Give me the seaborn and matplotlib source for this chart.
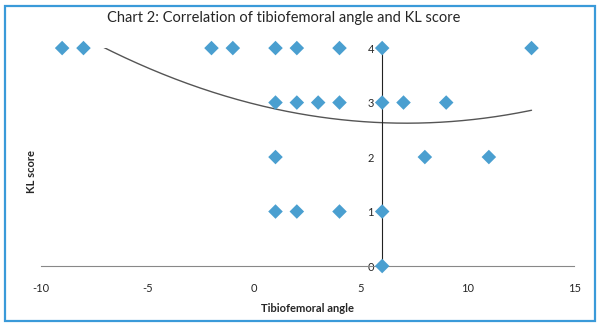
import numpy as np
import pandas as pd
import matplotlib
matplotlib.use("Agg")
import matplotlib.pyplot as plt
import seaborn as sns
from matplotlib.patches import Rectangle

# data
angle = [-9, -8, -2, -1, 1, 2, 4, 6, 13,
         1, 2, 3, 4, 6, 7, 9,
         1, 8, 11,
         1, 2, 4, 6,
         6]
kl_score = [4, 4, 4, 4, 4, 4, 4, 4, 4,
            3, 3, 3, 3, 3, 3, 3,
            2, 2, 2,
            1, 1, 1, 1,
            0]
trend_x = [-7.1, -0.7, 6.5, 13]
trend_y = [4.02, 3.05, 2.62, 2.86]
x_ticks = [-10, -5, 0, 5, 10, 15]
y_ticks = [0, 1, 2, 3, 4]

df = pd.DataFrame({"angle": angle, "kl": kl_score})

sns.set_style("white")
plt.rcParams["font.family"] = ["Lato", "DejaVu Sans"]
plt.rcParams["axes.unicode_minus"] = False

fig = plt.figure(figsize=(6, 3.27), dpi=100)
ax = fig.add_axes([0.068, 0.1865, 0.889, 0.6665])

sns.scatterplot(data=df, x="angle", y="kl", marker="D", s=55, color="#4a9fd0",
                edgecolor="none", ax=ax, clip_on=False, zorder=3)

# 2nd order polynomial trendline, clipped at the top of the axis like Excel
coef = np.polyfit(trend_x, trend_y, 2)
xs = np.linspace(min(angle), max(angle), 300)
ax.plot(xs, np.polyval(coef, xs), color="#555555", linewidth=1.0, zorder=2)

ax.set_xlim(-10, 15)
ax.set_ylim(0, 4)
ax.set_xticks(x_ticks)
ax.set_yticks(y_ticks)

ax.spines["left"].set_position(("data", 6))
ax.spines["left"].set_color("#222222")
ax.spines["bottom"].set_color("#888888")
ax.spines["top"].set_visible(False)
ax.spines["right"].set_visible(False)
ax.tick_params(axis="x", direction="out", length=4, color="#888888",
               labelsize=8, pad=8)
ax.tick_params(axis="y", direction="out", length=4, color="#555555",
               labelsize=8, pad=2)

ax.set_xlabel("Tibiofemoral angle", fontsize=8, fontweight="bold", labelpad=7)
ax.set_ylabel("")
fig.text(0.053, 0.475, "KL score", rotation=90, fontsize=8, fontweight="bold",
         ha="center", va="center")
fig.text(0.178, 0.945, "Chart 2: Correlation of tibiofemoral angle and KL score",
         fontsize=10.5, ha="left", va="center")

fig.patches.append(Rectangle((0.008, 0.018), 0.984, 0.965, transform=fig.transFigure,
                             fill=False, edgecolor="#3a9ad9", linewidth=1.6))

fig.savefig("out.png", dpi=100)
